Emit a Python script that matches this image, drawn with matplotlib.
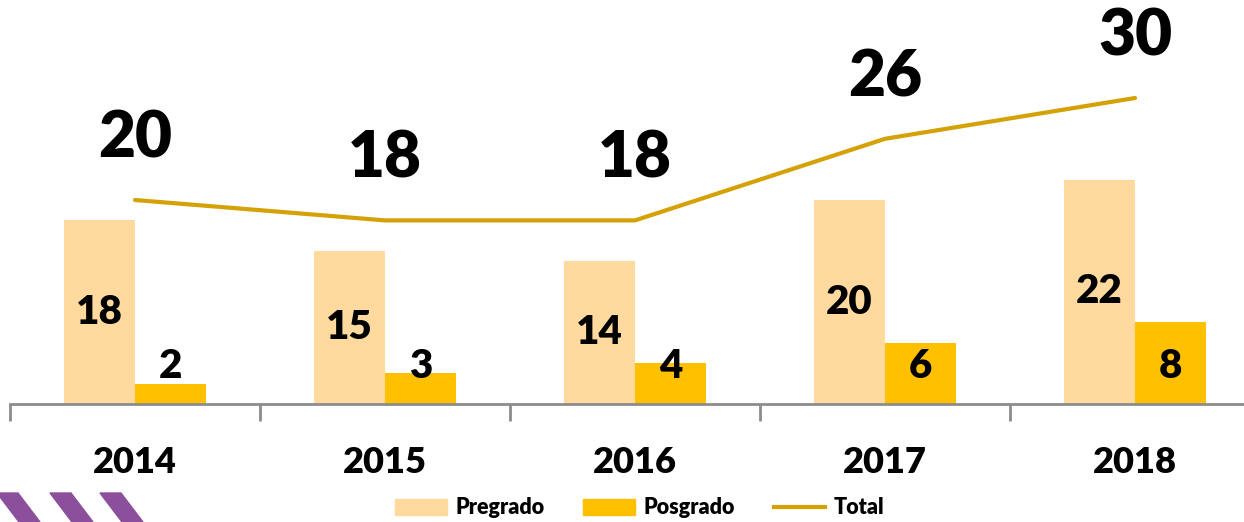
import matplotlib.pyplot as plt
from matplotlib.patches import Patch, Polygon
from matplotlib.lines import Line2D
import numpy as np

years = ["2014", "2015", "2016", "2017", "2018"]
pregrado = [18, 15, 14, 20, 22]
posgrado = [2, 3, 4, 6, 8]
total = [20, 18, 18, 26, 30]

c_pre = "#FFD99E"
c_pos = "#FFC000"
c_tot = "#D4A106"
c_axis = "#8C8C8C"

plt.rcParams['font.family'] = ['Lato', 'DejaVu Sans']
plt.rcParams['font.weight'] = 'heavy'

fig = plt.figure(figsize=(12.44, 5.22), dpi=100)
ax = fig.add_axes([10 / 1244, 118 / 522, 1250 / 1244, 404 / 522])

x = np.arange(len(years))
w = 0.285
ax.bar(x - w / 2, pregrado, w, color=c_pre, zorder=2)
ax.bar(x + w / 2, posgrado, w, color=c_pos, zorder=2)
ax.plot(x, total, color=c_tot, lw=3, solid_capstyle='round', zorder=3)

# bar labels
for xi, v in zip(x, pregrado):
    ax.text(xi - w / 2, v / 2, str(v), ha='center', va='center', fontsize=29, fontweight='heavy')
for xi, v in zip(x, posgrado):
    ax.text(xi + w / 2, 3.7, str(v), ha='center', va='center', fontsize=29, fontweight='heavy')
for xi, v in zip(x, total):
    ax.annotate(str(v), (xi, v), xytext=(0, 44), textcoords='offset points',
                ha='center', va='center', fontsize=46, fontweight='heavy')

ax.set_xlim(-0.5, len(years) - 0.5)
ax.set_ylim(0, 404 / 10.2)
for s in ['top', 'right', 'left']:
    ax.spines[s].set_visible(False)
ax.spines['bottom'].set_color(c_axis)
ax.spines['bottom'].set_linewidth(2)
ax.set_yticks([])
ax.set_xticks(x)
ax.set_xticklabels(years, fontsize=26, fontweight='heavy')
ax.tick_params(axis='x', which='major', length=0, pad=30)
ax.set_xticks(np.arange(len(years) + 1) - 0.5, minor=True)
ax.tick_params(axis='x', which='minor', length=12, width=2, color=c_axis)

handles = [Patch(color=c_pre), Patch(color=c_pos), Line2D([0], [0], color=c_tot, lw=3)]
fig.legend(handles, ["Pregrado", "Posgrado", "Total"], loc='center',
           bbox_to_anchor=(640 / 1244, 1 - 508 / 522), ncol=3, frameon=False,
           prop={'size': 15.5, 'weight': 'heavy'}, handlelength=2.4, handleheight=0.8,
           columnspacing=1.8, handletextpad=0.4)

# logo stripes in the corner
for x0 in [-3, 50, 100]:
    fig.patches.append(Polygon([[x0 / 1244, 29 / 522], [(x0 + 21) / 1244, 29 / 522],
                                [(x0 + 43) / 1244, 0], [(x0 + 22) / 1244, 0]],
                               closed=True, transform=fig.transFigure, color="#8B4F9B"))

fig.savefig("out.png", dpi=100)
